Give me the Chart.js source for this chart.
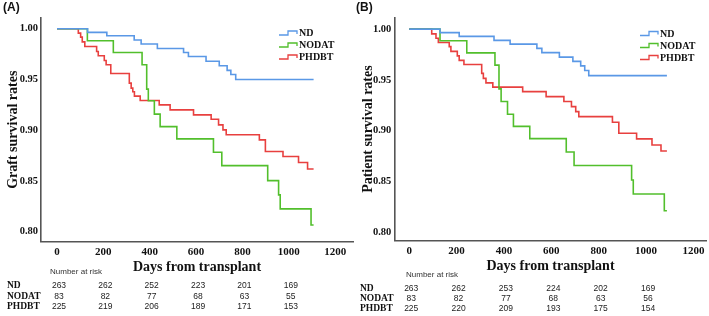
<!DOCTYPE html>
<html>
<head>
<meta charset="utf-8">
<script src="https://cdn.jsdelivr.net/npm/chart.js@4.4.1/dist/chart.umd.min.js"></script>
<style>
  html, body { margin: 0; padding: 0; background: #fff; width: 709px; height: 316px; overflow: hidden; }
  .panel { position: absolute; top: 0; height: 316px; }
  #wrapA { left: 0; width: 356px; }
  #wrapB { left: 356px; width: 353px; }
  .tag { position: absolute; top: 0; font: bold 12px "Liberation Sans", Arial, sans-serif; color: #111; }
</style>
</head>
<body>
<div class="panel" id="wrapA"><canvas id="chartA" width="356" height="316"></canvas></div>
<div class="panel" id="wrapB"><canvas id="chartB" width="353" height="316"></canvas></div>
<div class="tag" style="left:3px">(A)</div>
<div class="tag" style="left:356px">(B)</div>

<script>
// ===== data =====
const xTicks = [0, 200, 400, 600, 800, 1000, 1200];
const yTicks = [0.80, 0.85, 0.90, 0.95, 1.00];
const groups = ['ND', 'NODAT', 'PHDBT'];
const riskDays = [0, 200, 400, 600, 800, 1000];

// (A) graft survival
const graftNdDays = [0, 132, 215, 333, 363, 433, 546, 567, 643, 700, 734, 750, 771, 1107];
const graftNdSurv = [1, 0.9964, 0.9931, 0.9889, 0.985, 0.9805, 0.9766, 0.9726, 0.968, 0.9635, 0.959, 0.955, 0.950, 0.950];
const graftNodatDays = [0, 131, 243, 367, 387, 394, 420, 445, 517, 675, 711, 909, 956, 963, 1096, 1107];
const graftNodatSurv = [1, 0.9882, 0.9766, 0.9645, 0.9405, 0.929, 0.9159, 0.9036, 0.8915, 0.8784, 0.8652, 0.8504, 0.8363, 0.8225, 0.8067, 0.8067];
const graftPhdbtDays = [0, 92, 102, 109, 120, 171, 178, 204, 212, 232, 312, 320, 327, 334, 359, 441, 488, 589, 665, 697, 716, 730, 873, 899, 975, 1042, 1081, 1107];
const graftPhdbtSurv = [1, 0.9957, 0.9918, 0.9871, 0.9825, 0.9776, 0.9734, 0.9688, 0.9645, 0.9559, 0.9464, 0.9415, 0.9379, 0.9336, 0.9293, 0.925, 0.9201, 0.9152, 0.9109, 0.9053, 0.9004, 0.8955, 0.8905, 0.879, 0.8741, 0.8682, 0.8619, 0.8619];
const graftRiskNd = [263, 262, 252, 223, 201, 169];
const graftRiskNodat = [83, 82, 77, 68, 63, 55];
const graftRiskPhdbt = [225, 219, 206, 189, 171, 153];

// (B) patient survival
const patNdDays = [0, 130, 211, 358, 426, 539, 560, 634, 691, 724, 741, 758, 1088];
const patNdSurv = [1, 0.9966, 0.9929, 0.9889, 0.9852, 0.9811, 0.9769, 0.9724, 0.9682, 0.9638, 0.9592, 0.9542, 0.9542];
const patNodatDays = [0, 130, 243, 362, 379, 388, 415, 440, 509, 663, 696, 939, 946, 1077, 1088];
const patNodatSurv = [1, 0.9885, 0.9766, 0.9645, 0.9411, 0.9286, 0.9161, 0.9041, 0.8921, 0.8789, 0.8656, 0.8513, 0.8375, 0.821, 0.821];
const patPhdbtDays = [0, 95, 113, 123, 169, 176, 203, 211, 231, 306, 313, 324, 353, 479, 578, 653, 685, 703, 716, 858, 885, 960, 1025, 1063, 1088];
const patPhdbtSurv = [1, 0.9954, 0.9911, 0.9868, 0.9828, 0.9781, 0.9737, 0.9692, 0.9651, 0.9564, 0.9515, 0.947, 0.9428, 0.9384, 0.9335, 0.9286, 0.9236, 0.9187, 0.9138, 0.9082, 0.8974, 0.8918, 0.8858, 0.8799, 0.8799];
const patRiskNd = [263, 262, 253, 224, 202, 169];
const patRiskNodat = [83, 82, 77, 68, 63, 56];
const patRiskPhdbt = [225, 220, 209, 193, 175, 154];

const colors = ['#5a98e6', '#52bf2c', '#e8403f'];
const serif = '"Liberation Serif", "Times New Roman", serif';
const sans = '"Liberation Sans", Arial, sans-serif';

// ===== legend with step icons + number-at-risk table =====
const kmExtras = {
  id: 'kmExtras',
  afterDraw(chart, args, opts) {
    const ctx = chart.ctx;
    const xs = chart.scales.x;
    ctx.save();
    ctx.textBaseline = 'middle';

    chart.data.datasets.forEach((ds, i) => {
      const y = opts.legendY + i * opts.legendGap;
      const lx = opts.legendX;
      ctx.strokeStyle = ds.borderColor;
      ctx.lineWidth = 1.3;
      ctx.beginPath();
      ctx.moveTo(lx, y + 1.5);
      ctx.lineTo(lx + 9, y + 1.5);
      ctx.lineTo(lx + 9, y - 2.5);
      ctx.lineTo(lx + 18, y - 2.5);
      ctx.lineTo(lx + 18, y + 0.5);
      ctx.stroke();
      ctx.fillStyle = '#111';
      ctx.textAlign = 'left';
      ctx.font = 'bold 10px ' + serif;
      ctx.fillText(ds.label, lx + 20, y);
    });

    ctx.fillStyle = '#333';
    ctx.font = '8px ' + sans;
    ctx.textAlign = 'left';
    ctx.fillText('Number at risk', opts.riskTitleX, opts.riskTitleY);

    opts.risk.forEach((row, i) => {
      const y = opts.riskRows[i];
      ctx.fillStyle = '#111';
      ctx.textAlign = 'left';
      ctx.font = 'bold 9.5px ' + serif;
      ctx.fillText(groups[i], opts.nameX, y);
      ctx.fillStyle = '#222';
      ctx.textAlign = 'center';
      ctx.font = '8.5px ' + sans;
      row.forEach((n, j) => ctx.fillText(String(n), xs.getPixelForValue(riskDays[j]) + 2, y));
    });
    ctx.restore();
  }
};

function makeChart(id, cfg) {
  const series = [
    [cfg.ndDays, cfg.ndSurv],
    [cfg.nodatDays, cfg.nodatSurv],
    [cfg.phdbtDays, cfg.phdbtSurv]
  ];
  return new Chart(document.getElementById(id), {
    type: 'line',
    data: {
      datasets: series.map((s, i) => ({
        label: groups[i],
        data: s[0].map((d, k) => ({ x: d, y: s[1][k] })),
        borderColor: colors[i],
        borderWidth: 1.6,
        stepped: true,
        pointRadius: 0,
        fill: false
      }))
    },
    options: {
      responsive: false,
      animation: false,
      layout: { padding: cfg.padding },
      plugins: {
        legend: { display: false },
        tooltip: { enabled: false },
        kmExtras: cfg.extras
      },
      scales: {
        x: {
          type: 'linear',
          min: cfg.xMin,
          max: cfg.xMax,
          afterFit: s => { s.height = 40; },
          afterBuildTicks: s => { s.ticks = xTicks.map(v => ({ value: v })); },
          grid: { display: false, drawTicks: false },
          border: { color: '#555', width: 1.6 },
          ticks: { color: '#111', padding: 4, maxRotation: 0, autoSkip: false, callback: v => String(v), font: { family: serif, size: 11, weight: 'bold' } },
          title: { display: true, text: 'Days from transplant', color: '#111', padding: { top: 0, bottom: 6 }, font: { family: serif, size: 14, weight: 'bold' } }
        },
        y: {
          min: cfg.yMin,
          max: cfg.yMax,
          afterFit: s => { s.width = cfg.yWidth; },
          afterBuildTicks: s => { s.ticks = yTicks.map(v => ({ value: v })); },
          grid: { display: false, drawTicks: false },
          border: { color: '#555', width: 1.6 },
          ticks: { color: '#111', padding: 3, callback: v => v.toFixed(2), font: { family: serif, size: 10.5, weight: 'bold' } },
          title: { display: true, text: cfg.yTitle, color: '#111', padding: { top: cfg.yTitlePad, bottom: 0 }, font: { family: serif, size: 14, weight: 'bold' } }
        }
      }
    },
    plugins: [kmExtras]
  });
}

makeChart('chartA', {
  ndDays: graftNdDays, ndSurv: graftNdSurv,
  nodatDays: graftNodatDays, nodatSurv: graftNodatSurv,
  phdbtDays: graftPhdbtDays, phdbtSurv: graftPhdbtSurv,
  xMin: -69, xMax: 1277, yMin: 0.7904, yMax: 1.0106,
  yWidth: 41, yTitle: 'Graft survival rates', yTitlePad: 5,
  padding: { top: 18, right: 3, bottom: 34.5, left: 0 },
  extras: {
    legendX: 279, legendY: 33.5, legendGap: 12,
    riskTitleX: 50, riskTitleY: 272,
    nameX: 7, riskRows: [286, 296.5, 307],
    risk: [graftRiskNd, graftRiskNodat, graftRiskPhdbt]
  }
});

makeChart('chartB', {
  ndDays: patNdDays, ndSurv: patNdSurv,
  nodatDays: patNodatDays, nodatSurv: patNodatSurv,
  phdbtDays: patPhdbtDays, phdbtSurv: patPhdbtSurv,
  xMin: -63, xMax: 1256, yMin: 0.7914, yMax: 1.0115,
  yWidth: 38.3, yTitle: 'Patient survival rates', yTitlePad: 3.5,
  padding: { top: 17.5, right: 2.3, bottom: 35.3, left: 0 },
  extras: {
    legendX: 284, legendY: 34, legendGap: 12,
    riskTitleX: 50, riskTitleY: 275,
    nameX: 4, riskRows: [288.5, 299, 309],
    risk: [patRiskNd, patRiskNodat, patRiskPhdbt]
  }
});
</script>
</body>
</html>
